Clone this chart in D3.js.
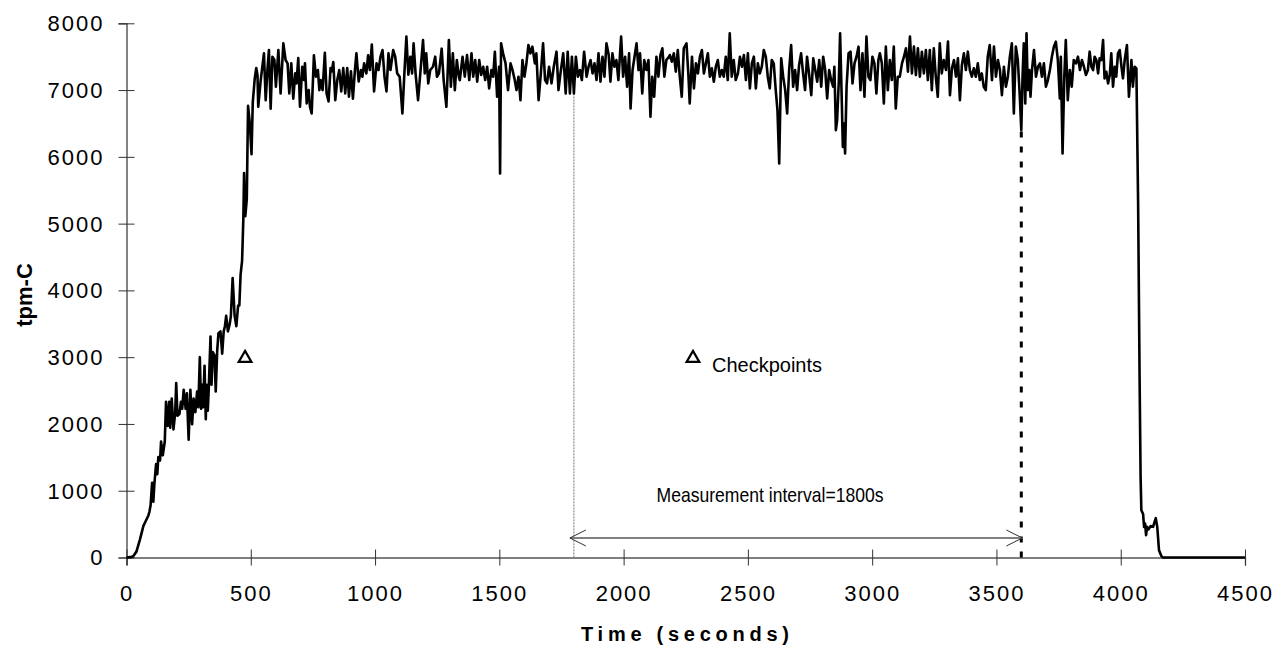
<!DOCTYPE html>
<html>
<head>
<meta charset="utf-8">
<script src="https://cdn.jsdelivr.net/npm/d3@7"></script>
<style>
  body { margin: 0; background: #fff; }
  .tick text { font-family: "Liberation Sans", Arial, sans-serif; font-size: 22px; letter-spacing: 2px; fill: #000; }
</style>
</head>
<body>
<div id="vis"></div>
<script>
// tick values
var xTicks = [0, 500, 1000, 1500, 2000, 2500, 3000, 3500, 4000, 4500];
var yTicks = [0, 1000, 2000, 3000, 4000, 5000, 6000, 7000, 8000];

// [seconds, tpm-C]
var samples = [
  [0,0],[15,5],[27,20],[40,88],[54,268],[68,474],[78,550],[88,630],[92,680],[97,783],[103,1118],[108,835],
  [112,1093],[119,1400],[124,1247],[128,1505],[135,1453],[139,1737],[146,1530],[154,1737],[159,2330],[166,1970],
  [172,2330],[176,1943],[182,2380],[189,1918],[196,2175],[200,2613],[205,2124],[213,2150],[219,2330],[224,2227],
  [230,2510],[238,2227],[243,2460],[250,1763],[257,2510],[264,1995],[270,2380],[277,2175],[284,2485],[289,2252],
  [295,3000],[300,2227],[304,2588],[308,2252],[314,2871],[319,2072],[322,2588],[327,2200],[331,2536],[338,3309],
  [342,2588],[347,3077],[354,3026],[359,2485],[365,3103],[370,3360],[378,3386],[385,3051],[391,3386],[396,3464],
  [401,3619],[408,3386],[415,3490],[420,3619],[427,4186],[435,3619],[442,3464],[449,3773],[454,3773],[459,4237],
  [465,4443],[470,5062],[473,5758],[478,5113],[484,5371],[489,6763],[496,6505],[503,6041],[508,6814],[516,7175],
  [522,7330],[527,7227],
  [530,6750],[540,7150],[553,7550],[560,6850],[567,7300],[573,7600],[580,6720],[587,7500],[595,7450],[601,7050],
  [611,7600],[620,6950],[631,7700],[640,7450],[648,7400],[655,6950],[663,7400],[671,6870],[679,7250],[684,7100],
  [691,7480],[698,6750],[707,7350],[714,7150],[718,7400],[725,6800],[733,7000],[738,6750],[745,6650],[754,7520],
  [762,7200],[770,7300],[776,7000],[781,7150],[789,7000],[798,7560],[805,6950],[813,6830],[821,7330],[826,7280],
  [832,7420],[840,6850],[848,7150],[856,7300],[864,6980],[872,7330],[880,6950],[888,7330],[895,6900],[903,7280],
  [911,6870],[919,7300],[925,7550],[934,7130],[943,7300],[949,7200],[956,7400],[965,7250],[972,7520],[979,7300],
  [987,7680],[996,6980],[1006,7400],[1014,7300],[1022,7500],[1030,7600],[1038,7200],[1046,6980],[1054,7550],
  [1062,7300],[1073,7600],[1081,7500],[1089,7250],[1099,7200],[1110,6650],[1118,7250],[1126,7800],[1134,7230],
  [1142,7500],[1149,7250],[1155,7700],[1163,7250],[1173,6850],[1182,7250],[1193,7750],[1200,7250],[1206,7550],
  [1214,7100],[1222,7300],[1233,7350],[1242,7500],[1249,7200],[1257,7250],[1268,7620],[1276,7150],[1287,6750],
  [1297,7750],[1305,7050],[1313,7550],[1321,7000],[1329,7450],[1337,7200],
  [1341,7150],[1352,7500],[1361,7200],[1370,7525],[1379,7150],[1388,7550],[1395,7200],[1403,7450],[1411,7125],
  [1419,7450],[1427,7225],[1435,7350],[1443,7150],[1451,7350],[1459,7025],[1468,7300],[1475,7200],[1482,7575],
  [1491,6900],[1499,7350],[1503,5750],[1507,7700],[1515,7550],[1525,7400],[1535,7000],[1545,7400],[1553,7300],
  [1562,7150],[1569,7000],[1577,7200],[1585,6850],[1593,7450],[1601,7200],[1609,7400],[1617,7675],[1625,7550],
  [1633,7650],[1643,7400],[1649,7550],[1658,6850],[1667,7250],[1676,7700],[1684,7150],[1692,7100],[1700,7350],
  [1710,7100],[1719,7350],[1730,7575],[1738,7000],[1746,7250],[1757,7550],[1767,6950],[1775,7575],[1784,6950],
  [1792,7500],[1800,6950],[1808,7500],[1816,7200],[1824,7300],[1832,7150],[1841,7575],[1851,7200],[1859,7350],
  [1867,7450],[1875,7250],[1883,7400],[1891,7150],[1899,7550],[1907,7125],[1915,7500],[1923,7200],[1931,7700],
  [1940,7525],[1947,7125],[1955,7550],[1963,7350],[1971,7450],[1979,7150],[1990,7800],[1998,7200],[2006,7500],
  [2014,7050],[2022,7550],[2028,6725],[2036,7300],[2044,7500],[2052,7700],[2060,7300],[2066,7550],[2075,6950],
  [2083,7450],[2092,7300],[2100,7450],[2108,6600],[2115,7200],[2123,6900],[2132,7500],[2140,7200],[2148,7525],
  [2156,7625],[2164,7200],[2172,7450],[2183,7500],
  [2186,7525],[2194,7425],[2202,7550],[2210,7275],[2218,7600],[2226,7200],[2234,6900],[2242,7625],[2253,7700],
  [2261,7200],[2266,6800],[2275,7500],[2283,7025],[2291,7400],[2299,7250],[2307,7500],[2315,7600],[2323,7250],
  [2331,7400],[2339,7550],[2347,7200],[2355,7325],[2363,7125],[2371,7350],[2379,7450],[2387,7200],[2395,7300],
  [2403,7200],[2411,7500],[2419,7150],[2427,7850],[2435,7200],[2443,7450],[2451,7150],[2460,7250],[2468,7500],
  [2476,7350],[2484,7525],[2492,7150],[2500,7550],[2508,7025],[2516,7400],[2524,7500],[2532,7025],[2540,7400],
  [2548,7250],[2556,7350],[2564,7600],[2572,7500],[2580,7200],[2588,7025],[2596,7450],[2604,7400],[2612,7000],
  [2619,6700],[2626,5900],[2634,7475],[2642,7200],[2650,7000],[2658,6650],[2666,7300],[2674,7675],[2682,7050],
  [2690,7300],[2698,7000],[2706,7375],[2714,7550],[2722,7250],[2730,7000],[2738,7500],[2746,7250],[2755,6925],
  [2763,7475],[2771,7300],[2779,7125],[2787,7450],[2795,7050],[2803,7500],[2811,7300],[2819,6875],[2827,7300],
  [2835,7150],[2843,7050],[2848,7350],[2854,6400],[2859,6550],[2866,7150],[2871,7850],[2878,6800],[2882,6150],
  [2887,6500],[2891,6050],[2897,7050],[2905,7550],[2913,7575],[2921,7100],[2929,7400],[2937,7500],[2945,7650],
  [2953,7000],[2961,7550],[2969,6900],[2977,7800],[2985,7200],[2993,7150],[3001,7500],[3009,7400],[3017,6950],
  [3025,7450],
  [3031,7550],[3039,7400],[3047,6800],[3055,7650],[3063,7000],[3071,7450],[3079,7150],[3087,7650],[3095,6725],
  [3103,7200],[3111,7200],[3120,7400],[3128,7500],[3136,7625],[3144,7275],[3152,7800],[3160,7250],[3168,7650],
  [3176,7225],[3184,7625],[3192,7200],[3200,7575],[3208,7250],[3216,7600],[3224,7150],[3232,7600],[3240,7000],
  [3248,7625],[3256,7200],[3264,6900],[3272,7700],[3280,7250],[3288,7450],[3297,7300],[3305,7725],[3313,6925],
  [3321,7325],[3329,7450],[3337,7200],[3345,7475],[3353,6850],[3361,7375],[3369,7550],[3377,7300],[3385,7575],
  [3393,7300],[3401,7200],[3409,7325],[3417,7200],[3425,7400],[3433,7150],[3441,7250],[3449,7050],[3457,7000],
  [3465,7500],[3473,7675],[3482,7150],[3490,7650],[3498,7200],[3506,7450],[3514,7300],[3522,6925],[3530,7350],
  [3538,7050],[3546,7200],[3554,7500],[3562,7700],[3570,6650],[3578,7650],[3586,7450],[3594,6900],[3600,6400],
  [3605,7200],[3610,7700],[3616,6800],[3621,7850],[3626,7000],[3632,7300],[3637,6900],[3643,7300],[3651,7600],
  [3659,7200],[3667,7350],[3675,7400],[3683,7200],[3691,7400],[3699,7050],[3707,7150],[3715,7300],[3723,7500],
  [3731,7650],[3739,7725],[3747,7450],[3755,6875],[3759,7500],[3766,6050],[3773,7200],[3779,7750],[3787,6850],
  [3795,7300],[3803,7050],[3811,7450],[3820,7400],[3828,7500],[3836,7300],[3844,7450],[3852,7350],[3860,7225],
  [3868,7300],
  [3875,7575],[3882,7350],[3889,7300],[3895,7500],[3902,7450],[3909,7250],[3915,7475],[3922,7450],[3929,7750],
  [3935,7175],[3942,7275],[3949,7100],[3956,7225],[3962,7550],[3969,7050],[3976,7350],[3982,7200],[3989,7550],
  [3996,7600],[4003,7350],[4009,7175],[4016,7450],[4025,7675],[4033,6900],[4043,7450],[4049,7050],[4056,7350],
  [4063,7325],
  [4070,5300],[4076,2656],[4080,1200],[4083,709],[4090,650],[4094,459],[4098,509],[4102,334],[4106,459],
  [4112,420],[4120,470],[4130,459],[4141,589],[4147,459],[4154,109],[4163,25],[4170,0],[4500,0]
];

// checkpoint marker and legend
var checkpoints = [[477, 3000]];
var legendPoint = [2279, 3000];

// measurement interval
var intervalStart = 1800, intervalEnd = 3600;

var width = 1286, height = 647;

var svg = d3.select("#vis").append("svg")
    .attr("width", width)
    .attr("height", height)
    .style("font-family", "'Liberation Sans', Arial, sans-serif");

var x = d3.scaleLinear().domain([0, 4500]).range([126.5, 1245]);
var y = d3.scaleLinear().domain([0, 8000]).range([557.5, 23.3]);

// x axis, ticks cross the line
var gx = svg.append("g")
    .attr("transform", "translate(0," + y(0) + ")")
    .call(d3.axisBottom(x).tickValues(xTicks).tickSizeOuter(0).tickSize(8).tickFormat(d3.format("d")));
gx.select(".domain").attr("stroke", "#000").attr("stroke-width", 1.2);
gx.selectAll(".tick line").attr("y1", -8).attr("y2", 8).attr("stroke", "#333");
gx.selectAll(".tick text").attr("y", 28).attr("dy", "0.71em");

// y axis
var gy = svg.append("g")
    .attr("transform", "translate(" + x(0) + ",0)")
    .call(d3.axisLeft(y).tickValues(yTicks).tickSizeOuter(0).tickSize(8).tickFormat(d3.format("d")));
gy.select(".domain").attr("stroke", "#333").attr("stroke-width", 1.2);
gy.selectAll(".tick line").attr("x1", -8).attr("x2", 8).attr("stroke", "#333");
gy.selectAll(".tick text").attr("x", -22).attr("dy", "0.34em");

// axis titles
svg.append("text")
    .attr("x", 685)
    .attr("y", 641)
    .attr("text-anchor", "middle")
    .attr("textLength", 208)
    .attr("lengthAdjust", "spacing")
    .style("font-weight", "bold")
    .style("font-size", "20px")
    .text("Time (seconds)");

svg.append("text")
    .attr("transform", "translate(32,295) rotate(-90)")
    .attr("text-anchor", "middle")
    .style("font-weight", "bold")
    .style("font-size", "22px")
    .text("tpm-C");

// measurement interval markers
svg.append("line")
    .attr("x1", x(intervalStart)).attr("x2", x(intervalStart))
    .attr("y1", y(6950)).attr("y2", y(0))
    .attr("stroke", "#777").attr("stroke-width", 1)
    .attr("stroke-dasharray", "2,1");

svg.append("line")
    .attr("x1", x(intervalEnd)).attr("x2", x(intervalEnd))
    .attr("y1", y(6380)).attr("y2", y(0))
    .attr("stroke", "#000").attr("stroke-width", 3)
    .attr("stroke-dasharray", "6,9");

var ay = 538;
svg.append("line")
    .attr("x1", x(intervalStart) - 4).attr("x2", x(intervalEnd) + 1)
    .attr("y1", ay).attr("y2", ay)
    .attr("stroke", "#808080").attr("stroke-width", 2);

svg.append("path")
    .attr("d", "M" + (x(intervalStart) + 12) + "," + (ay - 8) + "L" + (x(intervalStart) - 4) + "," + ay + "L" + (x(intervalStart) + 12) + "," + (ay + 8))
    .attr("fill", "none").attr("stroke", "#333").attr("stroke-width", 1);
svg.append("path")
    .attr("d", "M" + (x(intervalEnd) - 15) + "," + (ay - 8) + "L" + (x(intervalEnd) + 1) + "," + ay + "L" + (x(intervalEnd) - 15) + "," + (ay + 8))
    .attr("fill", "none").attr("stroke", "#333").attr("stroke-width", 1);

// narrow label, squeezed to the reference width
svg.append("text")
    .attr("x", 770)
    .attr("y", 502)
    .attr("text-anchor", "middle")
    .attr("textLength", 227)
    .attr("lengthAdjust", "spacingAndGlyphs")
    .style("font-family", "'Liberation Sans Narrow', 'Arial Narrow', sans-serif")
    .style("font-size", "21px")
    .text("Measurement interval=1800s");

// the tpm-C line
var line = d3.line()
    .x(function(d) { return x(d[0]); })
    .y(function(d) { return y(d[1]); });

svg.append("path")
    .datum(samples)
    .attr("d", line)
    .attr("fill", "none")
    .attr("stroke", "#000")
    .attr("stroke-width", 2.6)
    .attr("stroke-linejoin", "round");

// checkpoints
var tri = d3.symbol().type(d3.symbolTriangle).size(70);
svg.selectAll(".cp")
    .data(checkpoints)
    .enter()
    .append("path")
    .attr("class", "cp")
    .attr("transform", function(d) { return "translate(" + x(d[0]) + "," + (y(d[1]) + 1) + ")"; })
    .attr("d", tri)
    .attr("fill", "#fff")
    .attr("stroke", "#000")
    .attr("stroke-width", 2.2);

svg.append("path")
    .attr("transform", "translate(" + x(legendPoint[0]) + "," + (y(legendPoint[1]) + 1) + ")")
    .attr("d", tri)
    .attr("fill", "#fff")
    .attr("stroke", "#000")
    .attr("stroke-width", 2.2);

svg.append("text")
    .attr("x", x(legendPoint[0]) + 19)
    .attr("y", y(legendPoint[1]) + 15)
    .style("font-size", "20px")
    .text("Checkpoints");
</script>
</body>
</html>
